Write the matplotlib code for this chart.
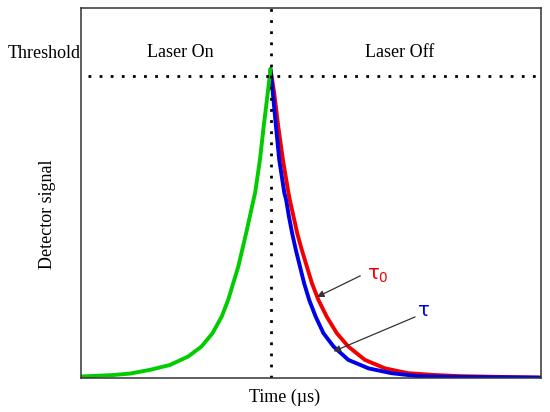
import matplotlib.pyplot as plt

# values (time in arbitrary units, signal normalised)
green_t = [0.00, 0.70, 1.07, 1.50, 1.93, 2.33, 2.62, 2.86, 3.06, 3.20, 3.42,
           3.59, 3.75, 3.785, 3.89, 3.97, 4.06, 4.12]
green_s = [0.004, 0.008, 0.012, 0.022, 0.035, 0.058, 0.085, 0.121, 0.166, 0.211, 0.301,
           0.391, 0.481, 0.500, 0.589, 0.678, 0.770, 0.834]

red_t = [4.12, 4.20, 4.29, 4.39, 4.51, 4.54, 4.62, 4.70, 4.80, 4.91, 5.02, 5.16,
         5.34, 5.56, 5.81, 6.17, 6.61, 7.11, 7.70, 8.24, 9.11, 10.0]
red_s = [0.834, 0.770, 0.678, 0.589, 0.500, 0.481, 0.436, 0.391, 0.346, 0.301, 0.256, 0.211,
         0.166, 0.121, 0.085, 0.049, 0.026, 0.013, 0.008, 0.005, 0.003, 0.001]

blue_t = [4.12, 4.17, 4.24, 4.31, 4.42, 4.46, 4.52, 4.59, 4.67, 4.76, 4.85, 4.96,
          5.10, 5.27, 5.49, 5.81, 6.25, 6.75, 7.33, 8.24, 10.0]
blue_s = [0.834, 0.770, 0.678, 0.589, 0.500, 0.481, 0.436, 0.391, 0.346, 0.301, 0.256, 0.211,
          0.166, 0.121, 0.085, 0.049, 0.026, 0.013, 0.005, 0.003, 0.001]

threshold = 0.816
t_off = 4.12
phase_labels = ['Laser On', 'Laser Off']
phase_x = [2.17, 6.93]

plt.rcParams['font.family'] = ['Liberation Serif', 'DejaVu Serif']

fig = plt.figure(figsize=(5.5, 4.12), dpi=100)
ax = fig.add_axes([0.147, 0.0825, 0.837, 0.8985])

ax.plot(red_t, red_s, color='#f20000', lw=2.8, solid_capstyle='round')
ax.plot(blue_t, blue_s, color='#0000e6', lw=2.8, solid_capstyle='round')
ax.plot(green_t, green_s, color='#00cc00', lw=2.8, solid_capstyle='round')

ax.axhline(threshold, xmin=0.015, color='black', lw=2.0, linestyle=(0, (1, 3)),
           dash_capstyle='butt')
ax.axvline(t_off, color='black', lw=2.0, linestyle=(0, (1, 3)), dash_capstyle='butt')

for lab, x in zip(phase_labels, phase_x):
    ax.text(x, 0.878, lab, ha='center', va='center', fontsize=13)

arrow = dict(arrowstyle='-|>', color='#333333', lw=0.9, mutation_scale=10,
             shrinkA=0, shrinkB=0)
ax.annotate('', xy=(5.13, 0.219), xytext=(6.07, 0.276), arrowprops=arrow)
ax.annotate('', xy=(5.49, 0.072), xytext=(7.26, 0.165), arrowprops=arrow)
ax.text(6.22, 0.278, r'$\mathregular{\tau_0}$', color='#f20000', fontsize=14,
        ha='left', va='center', family='DejaVu Sans')
ax.text(7.30, 0.182, r'$\mathregular{\tau}$', color='#0000e6', fontsize=14,
        ha='left', va='center', family='DejaVu Sans')

ax.set_xlim(0, 10)
ax.set_ylim(0, 1)
ax.set_xticks([])
ax.set_yticks([])
for sp in ax.spines.values():
    sp.set_linewidth(1.1)
    sp.set_color('#333333')

ax.text(0.443, -0.052, 'Time (\u00b5s)', transform=ax.transAxes, ha='center',
        va='center', fontsize=13)
ax.text(-0.073, 0.443, 'Detector signal', transform=ax.transAxes, ha='center',
        va='center', rotation=90, fontsize=13)
ax.text(-0.160, 0.876, 'Threshold', transform=ax.transAxes, ha='left',
        va='center', fontsize=13)

fig.savefig('out.png', dpi=100)
